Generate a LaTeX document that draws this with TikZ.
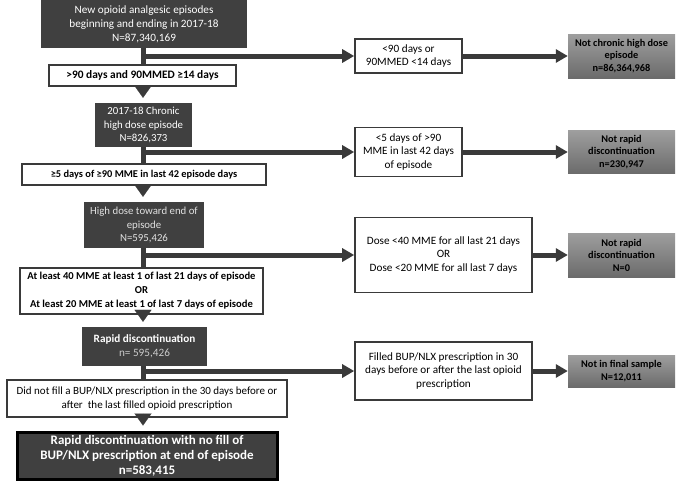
\documentclass[tikz,border=0pt]{standalone}
\usepackage{fontspec}
\setmainfont{Carlito}
\usetikzlibrary{arrows.meta}
\definecolor{boxgray}{HTML}{404040}
\definecolor{linegray}{HTML}{3A3A3A}
\tikzset{
  darkbox/.style={fill=boxgray, text=white, align=center, inner sep=0pt,
    font=\fontsize{11.2}{14}\selectfont},
  critbox/.style={draw=linegray, line width=1.6pt, fill=white, align=center,
    inner sep=0pt, font=\bfseries\fontsize{10.6}{14}\selectfont},
  sidebox/.style={critbox, font=\fontsize{11.2}{13.5}\selectfont},
  exitbox/.style={top color=black!38, bottom color=black!58, align=center,
    inner sep=0pt, minimum width=107pt, font=\bfseries\fontsize{10.3}{12.5}\selectfont},
  flow/.style={draw=linegray, line width=5pt},
  flowarrow/.style={flow, -{Triangle[length=12pt,width=13pt]}},
  downarrow/.style={draw=linegray, line width=0.1pt, fill=linegray,
    -{Triangle[length=12pt,width=17pt]}, shorten >=5pt}
}

\begin{document}
\begin{tikzpicture}[x=1pt,y=-1pt]

    \useasboundingbox (0,0) rectangle (685,491);

    %main column
    \node[darkbox, minimum width=206pt, minimum height=48pt] (start) at (144,24)
      {New opioid analgesic episodes\\beginning and ending in 2017-18\\N=87,340,169};
    \node[critbox, font=\bfseries\fontsize{11.4}{14}\selectfont,
      minimum width=187pt, minimum height=21pt] (crit1) at (142.5,75.5)
      {>90 days and 90MMED ≥14 days};
    \node[darkbox, font=\fontsize{10.8}{13.5}\selectfont,
      minimum width=97pt, minimum height=44pt] (chronic) at (143.5,125)
      {2017-18 Chronic\\high dose episode\\N=826,373};
    \node[critbox, font=\bfseries\fontsize{10.4}{14}\selectfont,
      minimum width=244pt, minimum height=21pt] (crit2) at (144,174.5)
      {≥5 days of ≥90 MME in last 42 episode days};
    \node[darkbox, text=white!88!black, font=\fontsize{10.8}{13.5}\selectfont,
      minimum width=120pt, minimum height=46pt] (highdose) at (144,225)
      {High dose toward end of\\episode\\N=595,426};
    \node[critbox, minimum width=243pt, minimum height=46pt] (crit3) at (141.5,291)
      {At least 40 MME at least 1 of last 21 days of episode\\OR\\At least 20 MME at least 1 of last 7 days of episode};
    \node[darkbox, minimum width=125pt, minimum height=39pt] (rapid) at (144.5,346.5)
      {\textbf{Rapid discontinuation}\\\textcolor{white!80!black}{n= 595,426}};
    \node[sidebox, font=\fontsize{11}{13.5}\selectfont,
      minimum width=280pt, minimum height=37pt] (crit4) at (147,398.5)
      {Did not fill a BUP/NLX prescription in the 30 days before or\\after\ \ the last filled opioid prescription};
    \node[darkbox, draw=black, line width=3pt, minimum width=260pt, minimum height=47pt,
      font=\bfseries\fontsize{13}{15}\selectfont] (final) at (147,455.5)
      {Rapid discontinuation with no fill of\\BUP/NLX prescription at end of episode\\n=583,415};

    %excluded branches
    \node[sidebox, minimum width=107pt, minimum height=34pt] (side1) at (408.5,56)
      {<90 days or\\90MMED <14 days};
    \node[sidebox, minimum width=107pt, minimum height=49pt] (side2) at (408.5,152)
      {<5 days of >90\\MME in last 42 days\\of episode};
    \node[sidebox, minimum width=177pt, minimum height=75pt] (side3) at (443.5,255)
      {Dose <40 MME for all last 21 days\\OR\\Dose <20 MME for all last 7 days};
    \node[sidebox, minimum width=177pt, minimum height=58pt] (side4) at (443.5,371)
      {Filled BUP/NLX prescription in 30\\days before or after the last opioid\\prescription};

    \node[exitbox, minimum height=44pt] (out1) at (621.5,56)
      {Not chronic high dose\\episode\\n=86,364,968};
    \node[exitbox, minimum height=43pt] (out2) at (621.5,152)
      {Not rapid\\discontinuation\\n=230,947};
    \node[exitbox, minimum height=44pt] (out3) at (621.5,255)
      {Not rapid\\discontinuation\\N=0};
    \node[exitbox, minimum height=32pt] (out4) at (621.5,371)
      {Not in final sample\\N=12,011};

    % split points
    \coordinate (split1) at (143,56);
    \coordinate (split2) at (143,152);
    \coordinate (split3) at (143,255);
    \coordinate (split4) at (143,371);

    %vertical flow
    \draw[flow] (start.south -| split1) -- (crit1.north -| split1);
    \draw[downarrow] (crit1.south -| split1) -- (chronic.north -| split1);
    \draw[flow] (chronic.south -| split1) -- (crit2.north -| split1);
    \draw[downarrow] (crit2.south -| split1) -- (highdose.north -| split1);
    \draw[flow] (highdose.south -| split1) -- (crit3.north -| split1);
    \draw[downarrow] (crit3.south -| split1) -- (rapid.north -| split1);
    \draw[flow] (rapid.south -| split1) -- (crit4.north -| split1);
    \draw[downarrow] (crit4.south -| split1) -- (final.north -| split1);

    %horizontal flow
    \draw[flowarrow] (split1) -- (side1.west);
    \draw[flowarrow] (side1.east) -- (out1.west);
    \draw[flowarrow] (split2) -- (side2.west);
    \draw[flowarrow] (side2.east) -- (out2.west);
    \draw[flowarrow] (split3) -- (side3.west);
    \draw[flowarrow] (side3.east) -- (out3.west);
    \draw[flowarrow] (split4) -- (side4.west);
    \draw[flowarrow] (side4.east) -- (out4.west);

\end{tikzpicture}
\end{document}
